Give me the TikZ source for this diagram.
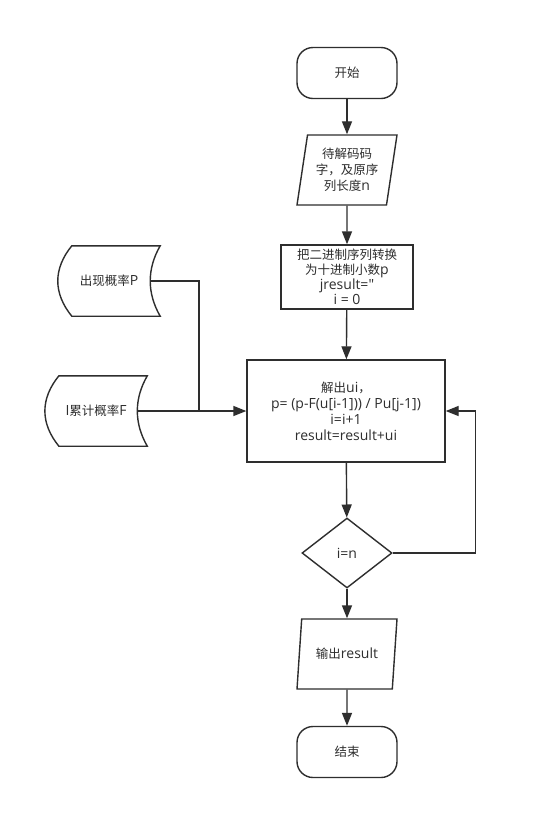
\documentclass[tikz,border=0pt]{standalone}
\usepackage{fontspec}
\setmainfont{Noto Sans CJK SC}
\newfontfamily\lat{Open Sans}[Scale=1.12]
\usetikzlibrary{arrows.meta, positioning, shapes.geometric}

\begin{document}
\begin{tikzpicture}[
  x=1pt, y=-1pt,
  color=black!82,
  font=\fontsize{12.5}{16}\selectfont,
  term/.style={draw, rounded corners=16pt, minimum width=100pt,
               minimum height=51pt, line width=1.4pt},
  io/.style={draw, trapezium, trapezium stretches body, minimum width=100pt,
             minimum height=70pt, align=center, inner sep=1pt, line width=1.4pt},
  proc/.style={draw, rectangle, align=center, inner sep=1pt, line width=1.4pt},
  cond/.style={draw, diamond, minimum width=90pt, minimum height=70pt,
               inner sep=0pt, line width=1.4pt},
  store/.style={minimum width=102pt, minimum height=70pt, inner sep=0pt},
  link/.style={line width=1.4pt},
  arr/.style={link, -{Triangle[length=13pt, width=10pt]}}
]
  \fill[white] (0,0) rectangle (537,839);
  \useasboundingbox (0,0) rectangle (537,839);

  \node[term] (start) at (347,73) {开始};
  \node[io, trapezium left angle=77, trapezium right angle=103] (read) at (347,170)
    {待解码码\\字，及原序\\列长度{\lat n}};
  \node[proc, minimum width=132pt, minimum height=64pt,
        font=\fontsize{12.5}{15}\selectfont] (conv) at (347,277)
    {把二进制序列转换\\为十进制小数{\lat p}\\{\lat jresult=\symbol{34}}\\{\lat i = 0}};
  \node[proc, minimum width=198pt, minimum height=102pt] (calc) at (346,411)
    {解出{\lat ui}，\\{\lat p= (p-F(u[i-1])) / Pu[j-1])}\\{\lat i=i+1}\\{\lat result=result+ui}};
  \node[cond] (check) at (347,553) {\lat i=n};
  \node[io, trapezium left angle=71, trapezium right angle=109] (out) at (347,654)
    {输出{\lat result}};
  \node[term] (stop) at (347,752) {结束};

  \node[store] (prob) at (109,281) {出现概率{\lat P}};
  \node[store, left=99pt of calc] (cum) {{\lat I}累计概率{\lat F}};
  \foreach \s in {prob, cum}{
    \draw[link] ([xshift=14pt]\s.north west) -- (\s.north east)
      .. controls +(-13.3,23) and +(-13.3,-23) .. (\s.south east)
      -- ([xshift=14pt]\s.south west)
      .. controls +(-18.7,-23) and +(-18.7,23) .. ([xshift=14pt]\s.north west)
      -- cycle;
  }
  \coordinate (probout) at ([xshift=-10pt]prob.east);
  \coordinate (cumout) at ([xshift=-10pt]cum.east);
  \coordinate (merge) at (199,0 |- calc.west);

  \draw[arr] (start) -- (read);
  \draw[arr] (read) -- (conv);
  \draw[arr] (conv) -- (calc);
  \draw[arr] (calc) -- (check);
  \draw[arr] (check) -- (out);
  \draw[arr] (out) -- (stop);
  \draw[arr] (check.east) -- ++(83,0) |- (calc.east);
  \draw[link] (probout) -| (merge);
  \draw[arr] (cumout) -- (calc.west);
\end{tikzpicture}
\end{document}
